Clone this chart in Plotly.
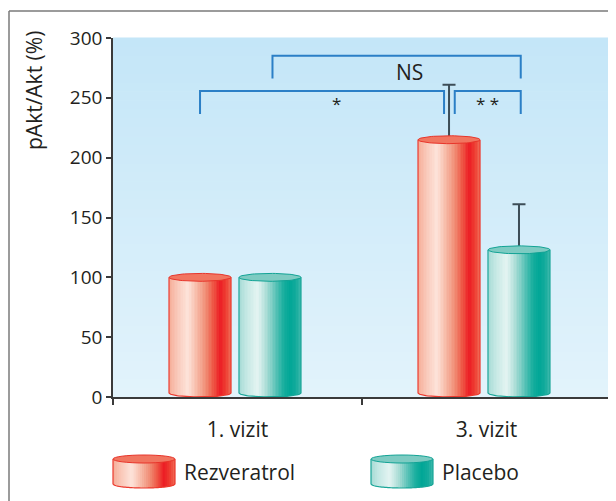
import numpy as np
import plotly.graph_objects as go

# ---------------- data ----------------
categories = ["1. vizit", "3. vizit"]
series_names = ["Rezveratrol", "Placebo"]
rezveratrol = [100, 215]
placebo = [100, 123]
rezveratrol_err = [None, 46]
placebo_err = [None, 38]
y_ticks = [0, 50, 100, 150, 200, 250, 300]
y_title = "pAkt/Akt (%)"
# significance brackets: (start (category, series), end (category, series), label)
brackets = [
    ((0, 0), (1, 0), "*"),
    ((1, 0), (1, 1), "* *"),
    ((0, 1), (1, 1), "NS"),
]

# ---------------- style ----------------
FONT = "Open Sans"
TXT = "#231f20"
AX = "#3a3a3a"
BAR_W = 0.249
OFFS = [-0.275, 0.006]
R_Y = 3.3            # ellipse half-height in data units
N_STRIPS = 40
stops = [
    [(0, "#f6ad98"), (0.12, "#f9c6b6"), (0.3, "#fde4db"), (0.45, "#f7baa7"), (0.6, "#f08a72"),
     (0.72, "#ee5443"), (0.82, "#ec1c24"), (0.92, "#ee3f33"), (1, "#f06a55")],
    [(0, "#a6dbd5"), (0.12, "#c4e8e4"), (0.3, "#e4f4f2"), (0.45, "#a8dcd5"), (0.6, "#55c1b5"),
     (0.72, "#1aaf9f"), (0.82, "#00a696"), (0.92, "#14ab9c"), (1, "#3bb8ab")],
]
top_fill = ["#f17560", "#7dcbc2"]
top_line = ["#e8352b", "#12a395"]
outline = ["#ec3a2e", "#1aa698"]
BRACKET = "#2b7fc6"
ERR = "#3d4d57"


def hex2rgb(h):
    h = h.lstrip("#")
    return [int(h[i:i + 2], 16) for i in (0, 2, 4)]


def interp(st, t):
    for (t0, c0), (t1, c1) in zip(st[:-1], st[1:]):
        if t0 <= t <= t1:
            f = (t - t0) / (t1 - t0)
            a, b = hex2rgb(c0), hex2rgb(c1)
            return "rgb(%d,%d,%d)" % tuple(round(a[k] + (b[k] - a[k]) * f) for k in range(3))
    return st[-1][1]


# plot area in page pixels (page has an 8px body margin)
PAGE_OFF = 8
L, R, T, B = 113, 611, 38, 397
W, H = 616 - PAGE_OFF, 501 - PAGE_OFF


def pxx(p):
    return (p - L) / (R - L)


def pxy(p):
    return (B - p) / (B - T)


fig = go.Figure()
xs = list(range(len(categories)))
values = [rezveratrol, placebo]
errors = [rezveratrol_err, placebo_err]

# cylinder bodies made from thin bar strips
dw = BAR_W / N_STRIPS
for s, vals in enumerate(values):
    for i in range(N_STRIPS):
        x0 = OFFS[s] + i * dw
        w = min(dw * 1.6, BAR_W - i * dw)
        uc = (x0 + w / 2 - OFFS[s]) / BAR_W * 2 - 1
        base = R_Y * (1 - np.sqrt(max(0.0, 1 - uc * uc)))
        fig.add_trace(go.Bar(
            x=xs, y=[v - base for v in vals], base=[base] * len(vals),
            offset=x0, width=w, marker=dict(color=interp(stops[s], (i + 0.5) / N_STRIPS), line=dict(width=0)),
            showlegend=False, hoverinfo="skip"))

tt = np.linspace(0, 1, 41)
th = np.linspace(0, 2 * np.pi, 73)

# side/bottom outlines
for s, vals in enumerate(values):
    ox, oy = [], []
    for c, v in zip(xs, vals):
        xl = c + OFFS[s]
        xr = xl + BAR_W
        ox += [xl, xl] + list(xl + BAR_W * tt) + [xr, xr, None]
        oy += [v, R_Y] + list(R_Y - R_Y * np.sqrt(np.clip(1 - (2 * tt - 1) ** 2, 0, 1))) + [R_Y, v, None]
    fig.add_trace(go.Scatter(x=ox, y=oy, mode="lines", line=dict(color=outline[s], width=1.2),
                             showlegend=False, hoverinfo="skip"))

# error bars (upper only; the lower cap is hidden under the cylinder top)
for s, vals in enumerate(values):
    pts = [(c + OFFS[s] + BAR_W / 2, v, e) for c, v, e in zip(xs, vals, errors[s]) if e]
    fig.add_trace(go.Scatter(
        x=[p[0] for p in pts], y=[p[1] for p in pts], mode="markers", marker=dict(size=1, opacity=0),
        error_y=dict(type="data", array=[p[2] for p in pts], arrayminus=[0] * len(pts), symmetric=False,
                     color=ERR, thickness=2, width=6.5),
        showlegend=False, hoverinfo="skip"))

# top ellipses
for s, vals in enumerate(values):
    for c, v in zip(xs, vals):
        cx = c + OFFS[s] + BAR_W / 2
        fig.add_trace(go.Scatter(x=cx + BAR_W / 2 * np.cos(th), y=v + R_Y * np.sin(th), mode="lines",
                                 fill="toself", fillcolor=top_fill[s], line=dict(color=top_line[s], width=1),
                                 showlegend=False, hoverinfo="skip"))

# significance brackets
bracket_style = {
    "*": dict(top=255.7, leg=236.5, nudge=(0, -0.02), tx=0.396, ty=245.5, size=17),
    "* *": dict(top=255.7, leg=236.5, nudge=(0.023, 0.007), tx=1.002, ty=245.5, size=17),
    "NS": dict(top=285.2, leg=266.2, nudge=(0.01, 0.007), tx=0.689, ty=272, size=21),
}
for (c0, s0), (c1, s1), lab in brackets:
    st = bracket_style[lab]
    xa = c0 + OFFS[s0] + BAR_W / 2 + st["nudge"][0]
    xb = c1 + OFFS[s1] + BAR_W / 2 + st["nudge"][1]
    fig.add_trace(go.Scatter(x=[xa, xa, xb, xb], y=[st["leg"], st["top"], st["top"], st["leg"]],
                             mode="lines", line=dict(color=BRACKET, width=2),
                             showlegend=False, hoverinfo="skip"))
    fig.add_annotation(x=st["tx"], y=st["ty"], text=lab, showarrow=False, xanchor="center",
                       yanchor="middle", font=dict(family=FONT, size=st["size"], color=TXT))

shapes = []
# background gradient
NB = 40
for i in range(NB):
    f = i / (NB - 1)
    a, b = hex2rgb("#e2f3fb"), hex2rgb("#c4e6f8")
    col = "rgb(%d,%d,%d)" % tuple(round(a[k] + (b[k] - a[k]) * f) for k in range(3))
    shapes.append(dict(type="rect", xref="paper", yref="paper", x0=0, x1=1, y0=i / NB, y1=(i + 1.05) / NB,
                       fillcolor=col, line=dict(width=0), layer="below"))

# frame (top and left)
shapes.append(dict(type="line", xref="paper", yref="paper", x0=pxx(9), x1=pxx(650), y0=pxy(11), y1=pxy(11),
                   line=dict(color="#7a7a7a", width=1.5)))
shapes.append(dict(type="line", xref="paper", yref="paper", x0=pxx(9), x1=pxx(9), y0=pxy(11), y1=pxy(540),
                   line=dict(color="#7a7a7a", width=1.5)))

# legend icons (small cylinders)
leg_left = [113, 371]
leg_text_x = [182, 440]
IW, ITOP, IBOT, IRY = 62, 459, 488, 4
NI = 30
for s in range(2):
    lx = leg_left[s]
    d = IW / NI
    for i in range(NI):
        x0 = lx + i * d
        w = min(d * 1.6, IW - i * d)
        uc = (x0 + w / 2 - lx) / IW * 2 - 1
        yb = IBOT - IRY + IRY * np.sqrt(max(0.0, 1 - uc * uc))
        shapes.append(dict(type="rect", xref="paper", yref="paper", x0=pxx(x0), x1=pxx(x0 + w),
                           y0=pxy(yb), y1=pxy(ITOP), fillcolor=interp(stops[s], (i + 0.5) / NI),
                           line=dict(width=0)))
    path = "M %f,%f L %f,%f" % (pxx(lx), pxy(ITOP), pxx(lx), pxy(IBOT - IRY))
    for t in tt:
        xx = lx + IW * t
        yy = IBOT - IRY + IRY * np.sqrt(max(0.0, 1 - (2 * t - 1) ** 2))
        path += " L %f,%f" % (pxx(xx), pxy(yy))
    path += " L %f,%f" % (pxx(lx + IW), pxy(ITOP))
    shapes.append(dict(type="path", xref="paper", yref="paper", path=path,
                       line=dict(color=outline[s], width=1.2)))
    shapes.append(dict(type="circle", xref="paper", yref="paper", x0=pxx(lx), x1=pxx(lx + IW),
                       y0=pxy(ITOP + IRY), y1=pxy(ITOP - IRY), fillcolor=top_fill[s],
                       line=dict(color=top_line[s], width=1)))
    fig.add_annotation(xref="paper", yref="paper", x=pxx(leg_text_x[s]), y=pxy(472), xanchor="left",
                       yanchor="middle", text=series_names[s], showarrow=False,
                       font=dict(family=FONT, size=21, color=TXT))

# y-axis title
fig.add_annotation(xref="paper", yref="paper", x=pxx(34), y=pxy(91), text=y_title, textangle=-90,
                   xanchor="center", yanchor="middle",
                   showarrow=False, font=dict(family=FONT, size=21, color=TXT))

fig.update_layout(
    width=W, height=H,
    margin=dict(l=L - PAGE_OFF, r=W - (R - PAGE_OFF), t=T - PAGE_OFF, b=H - (B - PAGE_OFF)),
    paper_bgcolor="white", plot_bgcolor="#d4edf9", barmode="overlay", bargap=0,
    shapes=shapes, showlegend=False, font=dict(family=FONT, color=TXT),
    xaxis=dict(range=[-0.5, 1.5], tickvals=xs, ticktext=categories, ticks="", showgrid=False,
               zeroline=False, showline=True, linecolor=AX, linewidth=1.5,
               tickfont=dict(family=FONT, size=21, color=TXT), ticklabelstandoff=13,
               minor=dict(tickvals=[-0.5, 0.5, 1.5], ticks="outside", ticklen=6, tickwidth=1.5,
                          tickcolor=AX, showgrid=False)),
    yaxis=dict(range=[0, 300], tickvals=y_ticks, ticks="outside", ticklen=5, tickwidth=1.5,
               tickcolor=AX, showgrid=False, zeroline=False, showline=True, linecolor=AX,
               linewidth=1.5, tickfont=dict(family=FONT, size=19, color=TXT), ticklabelstandoff=0),
)

fig.write_html("out.html")
